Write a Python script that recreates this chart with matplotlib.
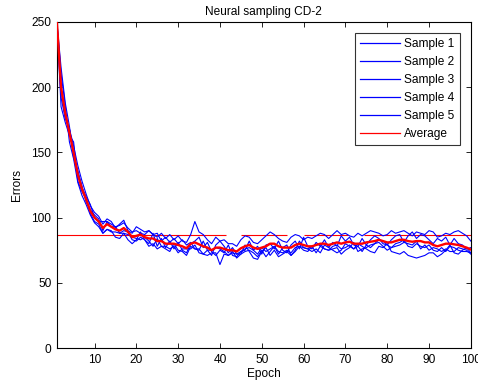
import matplotlib
matplotlib.use("Agg")
import matplotlib.pyplot as plt
from matplotlib.lines import Line2D

plt.rcParams['font.family'] = ['Liberation Sans', 'DejaVu Sans']

epochs = list(range(1, 101))

sample1 = [250, 192, 176, 168, 155, 140, 128, 118, 109, 104,
           101, 95, 99, 97, 92, 95, 98, 90, 88, 93,
           91, 89, 90, 87, 85, 88, 84, 87, 83, 86,
           82, 81, 87, 97, 89, 87, 83, 80, 85, 82,
           83, 80, 80, 78, 83, 86, 85, 81, 80, 83,
           86, 89, 87, 84, 82, 81, 85, 87, 86, 83,
           85, 84, 86, 88, 87, 84, 87, 90, 87, 88,
           86, 85, 88, 86, 88, 90, 89, 88, 86, 87,
           90, 88, 89, 90, 88, 86, 89, 88, 87, 90,
           89, 85, 86, 88, 87, 89, 90, 88, 86, 82]
sample2 = [250, 210, 186, 158, 145, 127, 117, 110, 102, 96,
           93, 88, 91, 90, 85, 84, 88, 83, 80, 83,
           89, 83, 80, 88, 78, 84, 77, 82, 76, 81,
           75, 73, 80, 82, 85, 77, 81, 74, 71, 75,
           73, 79, 71, 70, 74, 75, 82, 75, 78, 72,
           79, 80, 76, 82, 75, 73, 79, 82, 76, 85,
           78, 76, 81, 78, 83, 77, 81, 78, 86, 82,
           85, 79, 78, 84, 79, 83, 86, 84, 80, 79,
           83, 86, 87, 81, 86, 89, 84, 87, 86, 83,
           80, 84, 82, 85, 79, 84, 80, 79, 76, 77]
sample3 = [250, 215, 188, 170, 146, 135, 124, 112, 106, 102,
           99, 90, 97, 93, 93, 88, 90, 89, 83, 82,
           85, 83, 78, 80, 76, 78, 76, 74, 80, 75,
           74, 71, 78, 76, 75, 82, 75, 71, 79, 82,
           78, 73, 77, 72, 74, 76, 77, 75, 72, 77,
           74, 76, 78, 72, 77, 79, 71, 75, 82, 77,
           76, 78, 73, 78, 76, 75, 78, 79, 76, 77,
           79, 76, 78, 74, 79, 77, 80, 83, 82, 79,
           77, 80, 81, 83, 78, 77, 80, 78, 77, 79,
           75, 74, 77, 74, 78, 77, 75, 74, 74, 73]
sample4 = [250, 185, 173, 163, 158, 128, 120, 114, 103, 97,
           95, 88, 91, 89, 89, 88, 88, 87, 85, 84,
           83, 85, 82, 78, 84, 78, 78, 76, 78, 73,
           76, 76, 76, 79, 73, 72, 71, 73, 73, 64,
           72, 71, 73, 72, 72, 74, 75, 73, 70, 75,
           70, 74, 78, 74, 73, 75, 73, 77, 78, 75,
           74, 78, 79, 80, 76, 75, 76, 77, 72, 75,
           77, 81, 74, 76, 77, 79, 80, 81, 78, 75,
           77, 78, 79, 81, 80, 79, 82, 76, 79, 75,
           77, 76, 74, 76, 74, 74, 77, 76, 75, 72]
sample5 = [250, 198, 177, 168, 148, 136, 123, 116, 110, 100,
           97, 97, 97, 95, 93, 94, 96, 92, 89, 90,
           88, 87, 90, 87, 88, 82, 85, 81, 84, 80,
           83, 79, 81, 76, 76, 72, 75, 75, 77, 76,
           74, 71, 74, 69, 72, 79, 74, 69, 68, 74,
           77, 71, 75, 70, 72, 74, 71, 74, 78, 77,
           76, 74, 76, 73, 79, 77, 75, 73, 75, 80,
           78, 76, 80, 78, 76, 74, 73, 78, 77, 80,
           74, 73, 72, 74, 71, 70, 69, 70, 71, 73,
           73, 70, 72, 75, 79, 73, 72, 75, 77, 73]
average = [250, 200, 180, 165, 150, 133, 122, 114, 105, 100,
           97, 92, 95, 93, 91, 90, 92, 89, 85, 86,
           87, 85, 84, 84, 82, 82, 80, 80, 80, 79,
           78, 76.5, 80, 81, 79.5, 78, 77, 75, 77, 77,
           76, 75, 75, 74, 76.5, 78, 79, 77, 76, 77,
           78, 80, 80, 78, 77, 77, 77, 79, 80, 79,
           78, 78, 79, 80, 80, 79, 80, 81, 80, 81,
           81.5, 80, 80, 80, 81, 81.5, 82, 83, 82, 81,
           81, 82, 83, 83, 82, 81.5, 82, 82, 81, 81,
           79, 78, 79, 80, 80, 79.5, 79, 78, 77, 75.5]

ref_level = 87
ref_segments = [(1, 41.5), (45, 56), (60, 70.6), (74.4, 100)]

samples = [sample1, sample2, sample3, sample4, sample5]
labels = ['Sample 1', 'Sample 2', 'Sample 3', 'Sample 4', 'Sample 5', 'Average']

FS = 8.6

fig = plt.figure(figsize=(4.78, 3.85), dpi=100)
ax = fig.add_axes([0.119, 0.096, 0.866, 0.847])

for s0, s1 in ref_segments:
    ax.plot([s0, s1], [ref_level, ref_level], color='#ff0000', linewidth=0.8,
            zorder=1, solid_capstyle='butt')

for s in samples:
    ax.plot(epochs, s, color='#0000ff', linewidth=0.8, zorder=2)
ax.plot(epochs, average, color='#ff0000', linewidth=1.7, zorder=3)

ax.set_xlim(1, 100)
ax.set_ylim(0, 250)
ax.set_xticks([10, 20, 30, 40, 50, 60, 70, 80, 90, 100])
ax.set_yticks([0, 50, 100, 150, 200, 250])
ax.tick_params(direction='in', length=3.5, width=0.6, top=True, right=True,
               labelsize=FS, pad=4)
for sp in ax.spines.values():
    sp.set_linewidth(0.8)

ax.set_title('Neural sampling CD-2', fontsize=FS, pad=5)
ax.set_xlabel('Epoch', fontsize=FS, labelpad=2)
ax.set_ylabel('Errors', fontsize=FS, labelpad=6)

handles = [Line2D([], [], color='#0000ff', linewidth=0.9) for _ in range(5)]
handles.append(Line2D([], [], color='#ff0000', linewidth=0.9))
leg = ax.legend(handles, labels, loc='upper right', fontsize=FS, frameon=True,
                fancybox=False, edgecolor='black', handlelength=3.3,
                labelspacing=0.5, borderaxespad=0.9, handletextpad=0.4,
                borderpad=0.45)
leg.get_frame().set_linewidth(0.8)

fig.savefig('out.png', dpi=100)
